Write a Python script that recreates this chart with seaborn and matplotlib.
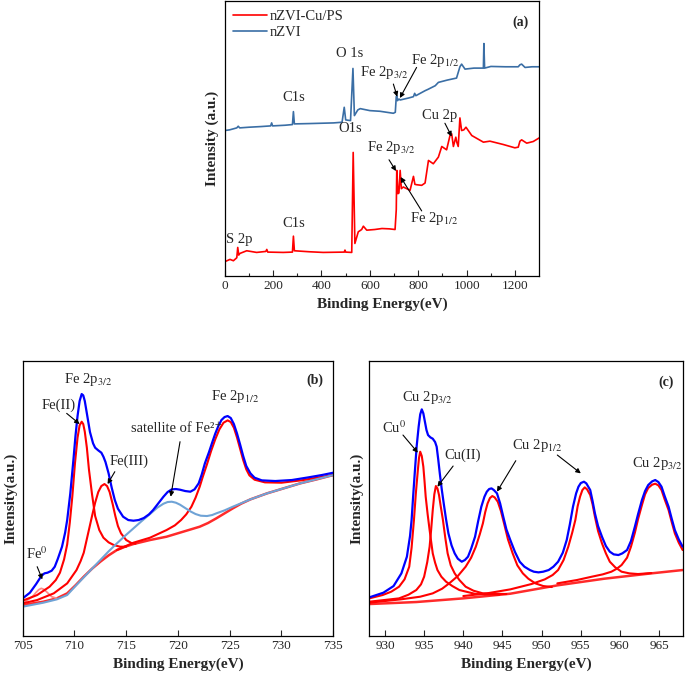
import matplotlib.pyplot as plt
import seaborn as sns

# ---- (a) survey spectra (a.u.)
a_x_nzvi = [0, 20, 50, 56, 62, 100, 150, 190, 194, 198, 250, 280, 284, 288, 350, 400, 450, 485,
            494, 500, 520, 530, 536, 550, 560, 600, 642, 697, 705, 709, 711, 714, 720, 725, 760,
            780, 785, 790, 828, 840, 870, 883, 920, 958, 972, 979, 993, 1030, 1069, 1071, 1074,
            1100, 1160, 1213, 1220, 1227, 1241, 1270, 1300]
a_y_nzvi = [438, 440, 446, 451, 446, 448, 450, 452, 461, 452, 454, 456, 495, 458, 459, 460, 461, 463,
            508, 470, 468, 625, 483, 500, 504, 498, 496, 490, 493, 540, 543, 528, 533, 530, 536,
            540, 550, 543, 558, 562, 573, 583, 590, 596, 630, 638, 623, 626, 626, 700, 626,
            631, 630, 630, 636, 638, 628, 630, 630]

a_x_cups = [0, 22, 36, 50, 54, 58, 63, 91, 132, 170, 174, 178, 242, 280, 284, 288, 350, 407, 494, 497,
            500, 525, 531, 538, 552, 566, 573, 587, 620, 650, 680, 704, 709, 711, 716, 720, 725, 730,
            738, 766, 780, 786, 792, 814, 828, 842, 862, 883, 897, 917, 931, 938, 945, 955, 959, 965,
            972, 979, 988, 997, 1021, 1069, 1096, 1151, 1199, 1213, 1220, 1227, 1248, 1275, 1300]
a_y_cups = [43, 50, 46, 55, 86, 63, 68, 76, 71, 74, 80, 72, 71, 72, 120, 76, 73, 71, 72, 78,
            72, 71, 372, 98, 133, 140, 150, 138, 140, 143, 142, 140, 200, 318, 248, 250, 318, 263,
            268, 258, 300, 276, 275, 273, 280, 348, 338, 358, 390, 380, 423, 428, 390, 418, 403, 390,
            476, 438, 440, 448, 423, 403, 406, 396, 386, 388, 406, 410, 400, 405, 416]

# ---- (b) Fe 2p fit
b_x_env = [705.0, 705.7, 706.3, 706.8, 707.1, 707.4, 707.8, 708.1, 708.4, 708.8, 709.1, 709.3, 709.6,
           709.9, 710.1, 710.3, 710.5, 710.7, 710.85, 711.0, 711.2, 711.5, 711.8, 712.0, 712.3, 712.6,
           712.8, 713.0, 713.3, 713.6, 713.9, 714.2, 714.7, 715.2, 715.7, 716.2, 716.7, 717.2, 717.6,
           718.1, 718.6, 719.0, 719.4, 719.8, 720.2, 720.7, 721.2, 721.6, 722.0, 722.3, 722.6, 723.0,
           723.3, 723.6, 723.9, 724.2, 724.5, 724.8, 725.1, 725.4, 725.7, 726.0, 726.3, 726.6, 727.0,
           727.4, 728.1, 729.4, 731.0, 732.6, 733.9, 735.0]
b_y_env = [113, 130, 156, 180, 188, 190, 196, 208, 232, 268, 310, 348, 428,
           528, 600, 660, 705, 726, 722, 705, 668, 612, 578, 565, 557, 550,
           538, 522, 488, 445, 408, 382, 358, 348, 346, 348, 354, 365, 378,
           398, 418, 432, 440, 441, 439, 435, 433, 440, 458, 485, 518, 552,
           580, 607, 630, 648, 657, 660, 654, 636, 608, 575, 540, 510, 488,
           475, 467, 465, 468, 476, 483, 490]
b_x_bkg = [705.0, 707.0, 708.3, 709.3, 710.1, 710.9, 711.7, 712.5, 713.3, 714.1, 714.9, 715.7, 717.3,
           718.9, 720.5, 722.1, 722.9, 723.7, 724.5, 725.3, 726.1, 727.0, 728.6, 730.2, 731.8, 733.4,
           735.0]
b_y_bkg = [93, 103, 113, 128, 152, 178, 202, 223, 242, 258, 268, 276, 288,
           298, 313, 328, 339, 353, 368, 383, 397, 410, 428, 443, 458, 470,
           483]
b_x_fe2 = [705.0, 706.4, 707.6, 708.2, 708.6, 709.0, 709.3, 709.55, 709.8, 710.05, 710.3, 710.5,
           710.7, 710.85, 711.0, 711.2, 711.4, 711.7, 712.0, 712.4, 712.8, 713.3, 713.8, 714.4, 715.0]
b_y_fe2 = [106, 123, 148, 168, 190, 230, 275, 340, 420, 518, 595, 632,
           643, 636, 613, 565, 500, 425, 360, 318, 295, 281, 273, 268, 268]
b_x_fe3 = [705.0, 706.4, 708.0, 709.3, 710.2, 710.6, 710.9, 711.3, 711.7, 712.0, 712.3, 712.6, 712.9,
           713.15, 713.4, 713.7, 713.95, 714.2, 714.5, 715.0, 715.5, 715.9]
b_y_fe3 = [98, 108, 128, 158, 198, 225, 250, 305, 360, 400, 432, 450, 456,
           450, 432, 395, 360, 330, 308, 288, 279, 277]
b_x_fe0 = [705.0, 706.0, 706.3, 706.55, 706.8, 707.05, 707.3, 707.8, 708.3]
b_y_fe0 = [97, 120, 131, 139, 143, 140, 133, 118, 113]
b_x_sat = [705.0, 707.0, 708.3, 709.3, 710.1, 710.9, 711.7, 712.5, 713.3, 714.1, 714.9, 715.7, 716.5,
           717.3, 718.0, 718.6, 719.0, 719.4, 719.8, 720.2, 720.7, 721.2, 721.7, 722.2, 722.8, 723.3,
           723.7, 724.5, 725.3, 727.0, 728.6, 731.8, 735.0]
b_y_sat = [88, 100, 110, 123, 150, 176, 202, 228, 254, 278, 301, 323, 345,
           366, 385, 397, 402, 403, 400, 394, 384, 374, 366, 361, 360, 363,
           368, 377, 388, 410, 428, 458, 483]
b_x_p12 = [714.1, 715.7, 717.3, 718.9, 719.7, 720.3, 720.8, 721.3, 721.7, 722.1, 722.4, 722.8, 723.2,
           723.6, 724.0, 724.4, 724.8, 725.1, 725.4, 725.7, 726.0, 726.3, 726.6, 726.9, 727.4, 728.4,
           730.0, 731.9, 733.6, 735.0]
b_y_p12 = [258, 280, 295, 318, 332, 348, 365, 388, 415, 448, 478, 515, 555,
           590, 620, 640, 647, 642, 625, 596, 562, 528, 500, 482, 469, 461,
           460, 467, 476, 483]

# ---- (c) Cu 2p fit
c_x_env = [928.0, 929.8, 931.1, 932.1, 932.8, 933.2, 933.4, 933.6, 933.8, 934.05, 934.3, 934.5, 934.7,
           934.9, 935.1, 935.3, 935.5, 935.8, 936.1, 936.4, 936.6, 936.8, 937.0, 937.25, 937.5, 937.8,
           938.1, 938.5, 938.9, 939.3, 939.8, 940.2, 940.6, 941.0, 941.5, 941.9, 942.3, 942.7, 943.0,
           943.3, 943.6, 943.9, 944.3, 944.7, 945.1, 945.5, 946.0, 946.6, 947.2, 947.8, 948.5, 949.0,
           949.6, 950.2, 950.9, 951.5, 952.1, 952.7, 953.2, 953.6, 954.0, 954.4, 954.7, 955.0, 955.4,
           955.7, 956.0, 956.2, 956.5, 956.8, 957.2, 957.7, 958.2, 958.7, 959.2, 959.8, 960.3, 960.9,
           961.4, 961.9, 962.3, 962.8, 963.2, 963.6, 964.1, 964.5, 964.9, 965.3, 965.7, 966.2, 966.6,
           967.0, 967.5, 968.0]
c_y_env = [116, 130, 150, 188, 238, 300, 348, 420, 488, 570, 628, 665, 680,
           668, 643, 618, 603, 596, 592, 582, 568, 530, 488, 440, 398, 350,
           308, 272, 248, 232, 223, 228, 238, 262, 298, 345, 388, 418, 433,
           441, 443, 438, 428, 398, 358, 320, 288, 252, 223, 208, 198, 193,
           191, 193, 198, 208, 223, 250, 288, 335, 388, 428, 448, 459, 463,
           458, 446, 438, 405, 368, 330, 298, 270, 253, 245, 243, 248, 258,
           285, 328, 365, 408, 435, 453, 464, 468, 462, 448, 420, 388, 352,
           318, 290, 268]
c_x_bkg = [928.0, 934.0, 940.0, 946.0, 952.0, 958.0, 964.0, 968.0]
c_y_bkg = [96, 102, 113, 127, 152, 172, 188, 198]
c_x_cu0 = [928.0, 929.7, 930.8, 931.8, 932.5, 933.1, 933.4, 933.7, 933.95, 934.2, 934.35, 934.5, 934.7,
           934.9, 935.05, 935.2, 935.45, 935.7, 936.1, 936.4, 936.7, 937.2, 937.8, 938.6, 939.5, 941.6,
           944.6]
c_y_cu0 = [113, 123, 133, 148, 170, 208, 265, 348, 430, 498, 535, 553, 540,
           508, 465, 418, 365, 318, 248, 220, 198, 178, 163, 150, 138, 126,
           124]
c_x_cu2 = [928.0, 931.8, 933.0, 934.0, 934.6, 935.0, 935.4, 935.7, 935.9, 936.1, 936.3, 936.5, 936.7,
           936.9, 937.1, 937.4, 937.7, 938.0, 938.4, 938.9, 939.5, 940.3, 941.3, 942.5, 945.5]
c_y_cu2 = [103, 113, 124, 138, 155, 178, 222, 268, 320, 378, 425, 450, 443,
           423, 392, 348, 295, 248, 212, 188, 168, 148, 136, 128, 126]
c_x_p1 = [928.0, 932.0, 934.5, 936.1, 937.3, 938.2, 939.3, 940.3, 941.0, 941.6, 942.1, 942.5, 942.8,
          943.1, 943.4, 943.7, 944.0, 944.4, 944.8, 945.2, 945.7, 946.3, 946.9, 947.6, 948.3, 949.2,
          950.2, 951.3]
c_y_p1 = [100, 110, 118, 128, 142, 158, 180, 208, 235, 268, 305, 338, 372,
          398, 414, 420, 416, 403, 375, 338, 290, 248, 212, 188, 172, 158,
          150, 147]
c_x_p2 = [940.0, 943.0, 946.0, 948.7, 950.4, 951.4, 952.1, 952.8, 953.4, 953.9, 954.3, 954.6, 954.9,
          955.2, 955.5, 955.8, 956.2, 956.5, 956.8, 957.2, 957.7, 958.2, 958.7, 959.4, 960.2, 961.2,
          962.3, 964.0]
c_y_p2 = [120, 128, 140, 156, 170, 183, 198, 228, 268, 310, 348, 390, 418,
          438, 446, 440, 423, 395, 358, 315, 278, 248, 223, 206, 193, 188,
          186, 189]
c_x_p3 = [952.0, 954.5, 956.4, 957.8, 958.9, 959.6, 960.2, 960.9, 961.4, 961.9, 962.3, 962.8, 963.2,
          963.6, 964.1, 964.5, 964.9, 965.3, 965.7, 966.2, 966.6, 967.0, 967.5, 968.0]
c_y_p3 = [158, 168, 178, 185, 193, 202, 213, 235, 268, 310, 350, 393, 425,
          444, 454, 457, 452, 438, 410, 378, 342, 308, 280, 258]

sns.set_style("ticks")
plt.rcParams["font.family"] = ["Liberation Serif", "DejaVu Serif"]
plt.rcParams["mathtext.fontset"] = "stix"

fig = plt.figure(figsize=(6.85, 6.82), dpi=100)
ax_a = fig.add_axes([0.328, 0.5953, 0.4593, 0.4032])
ax_b = fig.add_axes([0.0331, 0.0674, 0.4534, 0.4037])
ax_c = fig.add_axes([0.5391, 0.0674, 0.4575, 0.4037])

ARW = dict(arrowstyle="-|>", color="black", lw=0.8, mutation_scale=7, shrinkA=0, shrinkB=0)
FS = 10.5
LN = dict(solid_joinstyle="round", solid_capstyle="round")


def note(ax, xy, xytext):
    ax.annotate("", xy=xy, xytext=xytext, arrowprops=ARW)


def label(ax, x, y, s, **kw):
    ax.text(x, y, s, fontsize=FS, ha="center", va="center", **kw)


def style(ax, xlim, ylim, xticks):
    ax.set_xlim(*xlim)
    ax.set_ylim(*ylim)
    ax.set_xticks(xticks)
    ax.set_yticks([])
    ax.tick_params(axis="x", direction="in", length=4, width=0.8, labelsize=9.5, pad=3)
    ax.tick_params(axis="x", which="minor", direction="in", length=2, width=0.8)
    for sp in ax.spines.values():
        sp.set_visible(True)
        sp.set_color("black")
        sp.set_linewidth(0.9)
    ax.set_xlabel("Binding Energy(eV)", fontsize=11, fontweight="bold", labelpad=4)


# ---------------- (a)
sns.lineplot(x=a_x_cups, y=a_y_cups, ax=ax_a, color="#ff0000", lw=1.2, label="nZVI-Cu/PS", **LN)
sns.lineplot(x=a_x_nzvi, y=a_y_nzvi, ax=ax_a, color="#3a6ea5", lw=1.2, label="nZVI", **LN)
style(ax_a, (0, 1300), (0, 828), range(0, 1201, 200))
ax_a.set_xticks(range(100, 1300, 200), minor=True)
ax_a.set_ylabel("Intensity (a.u.)", fontsize=11, fontweight="bold", labelpad=4)
ax_a.legend(loc="upper left", frameon=False, fontsize=10.5, handlelength=2.3,
            handletextpad=0.2, borderaxespad=0.2, labelspacing=0.2)
ax_a.text(1255, 765, "(a)", fontsize=10, fontweight="bold", ha="right", va="center")
label(ax_a, 518, 669, "O 1s")
label(ax_a, 287, 537, "C1s")
label(ax_a, 660, 613, r"Fe 2p$_{3/2}$")
label(ax_a, 869, 648, r"Fe 2p$_{1/2}$")
note(ax_a, (713, 540), (697, 578))
note(ax_a, (724, 536), (793, 628))
label(ax_a, 518, 443, "O1s")
label(ax_a, 687, 388, r"Fe 2p$_{3/2}$")
note(ax_a, (708, 316), (679, 350))
label(ax_a, 863, 173, r"Fe 2p$_{1/2}$")
note(ax_a, (727, 298), (814, 196))
label(ax_a, 887, 483, "Cu 2p")
note(ax_a, (938, 420), (910, 460))
label(ax_a, 284, 158, "C1s")
label(ax_a, 61, 110, "S 2p")

# ---------------- (b)
sns.lineplot(x=b_x_bkg, y=b_y_bkg, ax=ax_b, color="#ff2a2a", lw=1.8, **LN)
sns.lineplot(x=b_x_fe0, y=b_y_fe0, ax=ax_b, color="#ff8a8a", lw=1.3, **LN)
sns.lineplot(x=b_x_fe3, y=b_y_fe3, ax=ax_b, color="#ff0000", lw=1.5, **LN)
sns.lineplot(x=b_x_fe2, y=b_y_fe2, ax=ax_b, color="#ff0000", lw=1.5, **LN)
sns.lineplot(x=b_x_p12, y=b_y_p12, ax=ax_b, color="#ff0000", lw=1.5, **LN)
sns.lineplot(x=b_x_sat, y=b_y_sat, ax=ax_b, color="#6fa3d6", lw=1.5, **LN)
sns.lineplot(x=b_x_env, y=b_y_env, ax=ax_b, color="#0000ff", lw=1.6, **LN)
style(ax_b, (705, 735), (0, 826), range(705, 736, 5))
ax_b.set_ylabel("Intensity(a.u.)", fontsize=11, fontweight="bold", labelpad=4)
ax_b.text(734.0, 768, "(b)", fontsize=10, fontweight="bold", ha="right", va="center")
label(ax_b, 711.3, 770, r"Fe 2p$_{3/2}$")
label(ax_b, 708.5, 693, "Fe(II)")
note(ax_b, (710.5, 636), (709.25, 668))
label(ax_b, 715.3, 523, "Fe(III)")
note(ax_b, (713.2, 456), (713.9, 493))
label(ax_b, 719.9, 623, "satellite of Fe\u00b2\u207a")
note(ax_b, (719.3, 418), (720.2, 583))
label(ax_b, 725.5, 718, r"Fe 2p$_{1/2}$")
label(ax_b, 706.4, 248, r"Fe$^{0}$")
note(ax_b, (706.9, 170), (706.4, 208))

# ---------------- (c)
sns.lineplot(x=c_x_bkg, y=c_y_bkg, ax=ax_c, color="#ff2a2a", lw=1.8, **LN)
sns.lineplot(x=c_x_cu0, y=c_y_cu0, ax=ax_c, color="#ff0000", lw=1.5, **LN)
sns.lineplot(x=c_x_cu2, y=c_y_cu2, ax=ax_c, color="#ff0000", lw=1.5, **LN)
sns.lineplot(x=c_x_p1, y=c_y_p1, ax=ax_c, color="#ff0000", lw=1.5, **LN)
sns.lineplot(x=c_x_p2, y=c_y_p2, ax=ax_c, color="#ff0000", lw=1.5, **LN)
sns.lineplot(x=c_x_p3, y=c_y_p3, ax=ax_c, color="#ff0000", lw=1.5, **LN)
sns.lineplot(x=c_x_env, y=c_y_env, ax=ax_c, color="#0000ff", lw=1.6, **LN)
style(ax_c, (928, 968), (0, 826), range(930, 966, 5))
ax_c.set_ylabel("Intensity(a.u.)", fontsize=11, fontweight="bold", labelpad=4)
ax_c.text(966.8, 760, "(c)", fontsize=10, fontweight="bold", ha="right", va="center")
label(ax_c, 935.4, 716, r"Cu 2p$_{3/2}$")
label(ax_c, 931.2, 626, r"Cu$^{0}$")
note(ax_c, (934.2, 550), (932.3, 603))
label(ax_c, 939.9, 543, "Cu(II)")
note(ax_c, (936.7, 448), (938.7, 510))
label(ax_c, 949.5, 573, r"Cu 2p$_{1/2}$")
note(ax_c, (944.3, 433), (946.7, 526))
note(ax_c, (955.0, 488), (952.0, 543))
label(ax_c, 964.7, 518, r"Cu 2p$_{3/2}$")

fig.savefig("out.png", dpi=100)
